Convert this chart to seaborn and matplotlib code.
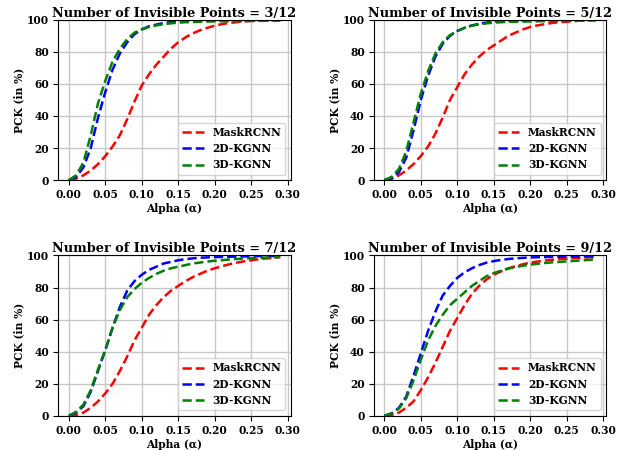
import numpy as np
import pandas as pd
import matplotlib
matplotlib.use("Agg")
import matplotlib.pyplot as plt
import seaborn as sns

plt.rcParams['font.family'] = ['DejaVu Serif']
plt.rcParams['font.weight'] = 'bold'

alpha = [round(0.01 * i, 2) for i in range(30)]

titles = ["Number of Invisible Points = 3/12", "Number of Invisible Points = 5/12",
          "Number of Invisible Points = 7/12", "Number of Invisible Points = 9/12"]
methods = ["MaskRCNN", "2D-KGNN", "3D-KGNN"]
colors = ["red", "blue", "green"]

# Panel 3/12
mask_3 = [0, 1, 3, 6, 10, 15, 21, 28, 38, 49, 59, 66, 72, 77, 82, 86, 89, 91.5, 93.5, 95,
          96.3, 97.3, 98, 98.5, 99, 99.3, 99.5, 99.7, 99.8, 100]
kg2d_3 = [0, 2, 8, 20, 39, 55, 69, 79, 86, 91, 94, 96, 97, 98, 98.5, 99, 99.3, 99.5, 99.6, 99.7,
          99.8, 99.8, 99.9, 99.9, 99.9, 100, 100, 100, 100, 100]
kg3d_3 = [0, 3, 11, 28, 48, 62, 74, 82, 88, 92, 94, 95.5, 96.5, 97.3, 97.8, 98.2, 98.5, 98.6, 98.8, 98.9,
          99, 99.1, 99.1, 99.2, 99.2, 99.3, 99.3, 99.4, 99.4, 99.5]

# Panel 5/12
mask_5 = [0, 1, 3, 6, 10, 15, 21, 29, 39, 50, 58, 66, 72, 77, 81, 84, 87, 90, 92, 94,
          95.5, 96.5, 97.3, 98, 98.5, 98.8, 99.2, 99.5, 99.7, 100]
kg2d_5 = [0, 1, 5, 14, 31, 50, 65, 77, 85, 90, 93, 95, 96.5, 97.5, 98.3, 99, 99.3, 99.5, 99.6, 99.7,
          99.8, 99.8, 99.9, 99.9, 99.9, 100, 100, 100, 100, 100]
kg3d_5 = [0, 2, 7, 18, 36, 54, 68, 79, 86, 90.5, 93, 95, 96.3, 97.2, 97.8, 98.2, 98.5, 98.7, 98.8, 98.9,
          99, 99.1, 99.2, 99.3, 99.3, 99.4, 99.5, 99.5, 99.6, 99.6]

# Panel 7/12
mask_7 = [0, 0.5, 2, 5, 9, 14, 20, 28, 37, 47, 55, 63, 69, 74, 78, 81, 84, 86.5, 88.5, 90.5,
          92, 93.3, 94.5, 95.5, 96.3, 97, 97.6, 98.1, 98.5, 99]
kg2d_7 = [0, 2, 6, 15, 28, 41, 55, 68, 78, 84, 88, 91, 93, 95, 96, 97, 97.7, 98.2, 98.6, 98.8,
          99, 99.1, 99.2, 99.3, 99.4, 99.5, 99.6, 99.7, 99.7, 99.8]
kg3d_7 = [0, 2.5, 7, 16, 29, 41, 55, 66, 74, 79, 83, 86, 88.5, 90.5, 92, 93, 94, 95, 95.6, 96.2,
          96.7, 97.1, 97.5, 97.8, 98.1, 98.3, 98.5, 98.7, 98.9, 99]

# Panel 9/12
mask_9 = [0, 0.5, 2, 5, 9, 16, 24, 33, 43, 53, 61, 69, 76, 81, 85, 88, 90, 92, 93.3, 94.5,
          95.5, 96.2, 96.8, 97.3, 97.7, 98, 98.3, 98.6, 98.8, 99]
kg2d_9 = [0, 1.5, 5, 12, 25, 39, 53, 65, 75, 81, 86, 89.5, 92, 94, 95.5, 96.5, 97.2, 97.8, 98.2, 98.5,
          98.8, 98.9, 99, 99.1, 99.2, 99.3, 99.4, 99.4, 99.5, 99.5]
kg3d_9 = [0, 1.5, 4.5, 11, 22, 35, 47, 56, 63, 69, 73, 77, 81, 84, 87, 89, 90.5, 91.8, 92.8, 93.6,
          94.3, 94.8, 95.3, 95.7, 96, 96.3, 96.6, 96.9, 97.2, 97.5]

panels = [(mask_3, kg2d_3, kg3d_3), (mask_5, kg2d_5, kg3d_5),
          (mask_7, kg2d_7, kg3d_7), (mask_9, kg2d_9, kg3d_9)]

small = 7.7
fig, axes = plt.subplots(2, 2, figsize=(6.27, 4.5), dpi=100)
fig.subplots_adjust(left=0.093, right=0.967, top=0.956, bottom=0.076, wspace=0.357, hspace=0.47)

for ax, title, series in zip(axes.flat, titles, panels):
    for name, col, vals in zip(methods, colors, series):
        df = pd.DataFrame({"alpha": alpha, "pck": vals})
        sns.lineplot(data=df, x="alpha", y="pck", ax=ax, color=col, linestyle="--",
                     linewidth=1.8, label=name)
    ax.set_ylim(0, 100)
    ax.set_xticks([0.0, 0.05, 0.10, 0.15, 0.20, 0.25, 0.30])
    ax.set_xticklabels(["0.00", "0.05", "0.10", "0.15", "0.20", "0.25", "0.30"])
    ax.set_yticks([0, 20, 40, 60, 80, 100])
    ax.tick_params(labelsize=small, length=3.5, pad=3)
    for lbl in ax.get_xticklabels() + ax.get_yticklabels():
        lbl.set_fontweight('bold')
    ax.grid(True, color="#c8c8c8", linewidth=1)
    ax.set_axisbelow(True)
    ax.set_title(title, fontsize=9.3, fontweight='bold', pad=2)
    ax.set_xlabel("Alpha (α)", fontsize=small, fontweight='bold', labelpad=2)
    ax.set_ylabel("PCK (in %)", fontsize=small, fontweight='bold', labelpad=2)
    ax.legend(loc="lower right", prop={'size': small, 'weight': 'bold'})

fig.savefig("out.png", dpi=100)
